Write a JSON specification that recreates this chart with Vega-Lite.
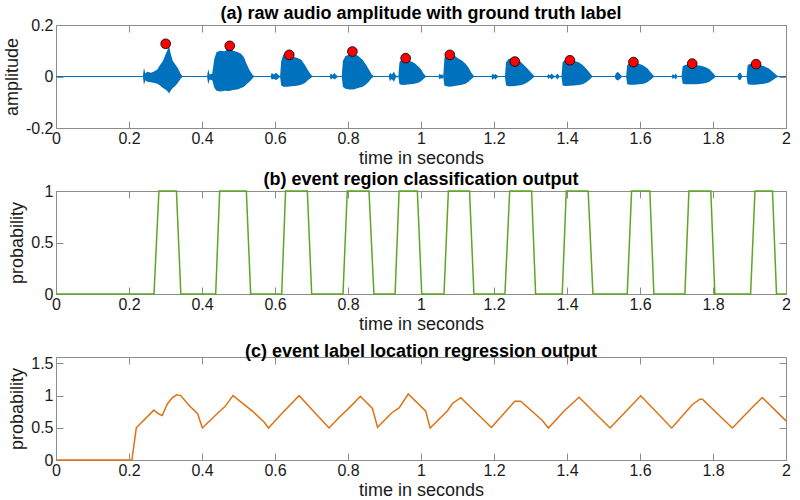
{
  "$schema": "https://vega.github.io/schema/vega-lite/v6.json",
  "background": "white",
  "padding": {"left": 3, "top": 5, "right": 5, "bottom": 3},
  "spacing": 63,
  "bounds": "flush",
  "config": {
    "font": "Liberation Sans",
    "view": {"stroke": null},
    "axis": {
      "grid": false,
      "domainColor": "#8c8c8c",
      "tickColor": "#8c8c8c",
      "tickSize": -7,
      "labelFont": "Liberation Sans",
      "labelFontSize": 16,
      "labelColor": "#1a1a1a",
      "titleFont": "Liberation Sans",
      "titleFontSize": 18,
      "titleFontWeight": "normal",
      "titleColor": "#1a1a1a",
      "labelFlush": false,
      "labelOverlap": false
    },
    "axisX": {"labelPadding": 9, "titlePadding": 3},
    "axisY": {"labelPadding": 10, "titlePadding": 4},
    "title": {"fontSize": 18, "fontWeight": "bold", "color": "#000000", "offset": -6, "anchor": "middle", "frame": "group", "font": "Liberation Sans"}
  },
  "datasets": {
    "wave": [
      {"t": 0, "hi": 0.002, "lo": -0.002},
      {"t": 0.238, "hi": 0.002, "lo": -0.002},
      {"t": 0.241, "hi": 0.034, "lo": -0.032},
      {"t": 0.245, "hi": 0.012, "lo": -0.015},
      {"t": 0.25, "hi": 0.018, "lo": -0.02},
      {"t": 0.26, "hi": 0.015, "lo": -0.022},
      {"t": 0.27, "hi": 0.02, "lo": -0.025},
      {"t": 0.278, "hi": 0.028, "lo": -0.028},
      {"t": 0.285, "hi": 0.045, "lo": -0.035},
      {"t": 0.293, "hi": 0.06, "lo": -0.045},
      {"t": 0.3, "hi": 0.085, "lo": -0.05},
      {"t": 0.306, "hi": 0.105, "lo": -0.058},
      {"t": 0.31, "hi": 0.118, "lo": -0.066},
      {"t": 0.314, "hi": 0.09, "lo": -0.055},
      {"t": 0.32, "hi": 0.06, "lo": -0.045},
      {"t": 0.328, "hi": 0.045, "lo": -0.035},
      {"t": 0.335, "hi": 0.03, "lo": -0.022},
      {"t": 0.341, "hi": 0.012, "lo": -0.01},
      {"t": 0.346, "hi": 0.002, "lo": -0.002},
      {"t": 0.414, "hi": 0.002, "lo": -0.002},
      {"t": 0.417, "hi": 0.028, "lo": -0.03},
      {"t": 0.421, "hi": 0.008, "lo": -0.012},
      {"t": 0.428, "hi": 0.012, "lo": -0.015},
      {"t": 0.434, "hi": 0.07, "lo": -0.045},
      {"t": 0.44, "hi": 0.095, "lo": -0.055},
      {"t": 0.45, "hi": 0.1, "lo": -0.058},
      {"t": 0.462, "hi": 0.098, "lo": -0.055},
      {"t": 0.474, "hi": 0.11, "lo": -0.056},
      {"t": 0.485, "hi": 0.1, "lo": -0.052},
      {"t": 0.497, "hi": 0.095, "lo": -0.05},
      {"t": 0.507, "hi": 0.088, "lo": -0.045},
      {"t": 0.515, "hi": 0.075, "lo": -0.04},
      {"t": 0.522, "hi": 0.05, "lo": -0.03},
      {"t": 0.53, "hi": 0.025, "lo": -0.02},
      {"t": 0.537, "hi": 0.01, "lo": -0.01},
      {"t": 0.542, "hi": 0.002, "lo": -0.002},
      {"t": 0.588, "hi": 0.002, "lo": -0.002},
      {"t": 0.591, "hi": 0.014, "lo": -0.012},
      {"t": 0.597, "hi": 0.008, "lo": -0.01},
      {"t": 0.603, "hi": 0.015, "lo": -0.014},
      {"t": 0.609, "hi": 0.006, "lo": -0.008},
      {"t": 0.614, "hi": 0.002, "lo": -0.002},
      {"t": 0.617, "hi": 0.06, "lo": -0.035},
      {"t": 0.623, "hi": 0.085, "lo": -0.04},
      {"t": 0.635, "hi": 0.08, "lo": -0.04},
      {"t": 0.645, "hi": 0.078, "lo": -0.038},
      {"t": 0.66, "hi": 0.073, "lo": -0.036},
      {"t": 0.672, "hi": 0.065, "lo": -0.032},
      {"t": 0.682, "hi": 0.045, "lo": -0.025},
      {"t": 0.69, "hi": 0.025, "lo": -0.015},
      {"t": 0.698, "hi": 0.008, "lo": -0.006},
      {"t": 0.703, "hi": 0.002, "lo": -0.002},
      {"t": 0.75, "hi": 0.002, "lo": -0.002},
      {"t": 0.753, "hi": 0.012, "lo": -0.012},
      {"t": 0.758, "hi": 0.006, "lo": -0.006},
      {"t": 0.763, "hi": 0.014, "lo": -0.012},
      {"t": 0.768, "hi": 0.005, "lo": -0.006},
      {"t": 0.772, "hi": 0.002, "lo": -0.002},
      {"t": 0.783, "hi": 0.002, "lo": -0.002},
      {"t": 0.786, "hi": 0.06, "lo": -0.04},
      {"t": 0.793, "hi": 0.08, "lo": -0.048},
      {"t": 0.805, "hi": 0.085, "lo": -0.05},
      {"t": 0.815, "hi": 0.09, "lo": -0.05},
      {"t": 0.828, "hi": 0.08, "lo": -0.045},
      {"t": 0.84, "hi": 0.065, "lo": -0.04},
      {"t": 0.85, "hi": 0.045, "lo": -0.03},
      {"t": 0.858, "hi": 0.025, "lo": -0.018},
      {"t": 0.865, "hi": 0.008, "lo": -0.006},
      {"t": 0.87, "hi": 0.002, "lo": -0.002},
      {"t": 0.912, "hi": 0.002, "lo": -0.002},
      {"t": 0.915, "hi": 0.015, "lo": -0.018},
      {"t": 0.92, "hi": 0.008, "lo": -0.01},
      {"t": 0.926, "hi": 0.018, "lo": -0.02},
      {"t": 0.931, "hi": 0.004, "lo": -0.004},
      {"t": 0.938, "hi": 0.002, "lo": -0.002},
      {"t": 0.941, "hi": 0.055, "lo": -0.03},
      {"t": 0.948, "hi": 0.068, "lo": -0.033},
      {"t": 0.958, "hi": 0.066, "lo": -0.032},
      {"t": 0.97, "hi": 0.06, "lo": -0.03},
      {"t": 0.982, "hi": 0.052, "lo": -0.028},
      {"t": 0.992, "hi": 0.04, "lo": -0.024},
      {"t": 1.0, "hi": 0.028, "lo": -0.018},
      {"t": 1.007, "hi": 0.012, "lo": -0.01},
      {"t": 1.013, "hi": 0.002, "lo": -0.002},
      {"t": 1.048, "hi": 0.002, "lo": -0.002},
      {"t": 1.051, "hi": 0.012, "lo": -0.012},
      {"t": 1.055, "hi": 0.005, "lo": -0.006},
      {"t": 1.058, "hi": 0.01, "lo": -0.01},
      {"t": 1.061, "hi": 0.002, "lo": -0.002},
      {"t": 1.064, "hi": 0.07, "lo": -0.035},
      {"t": 1.07, "hi": 0.09, "lo": -0.038},
      {"t": 1.078, "hi": 0.095, "lo": -0.04},
      {"t": 1.088, "hi": 0.085, "lo": -0.038},
      {"t": 1.1, "hi": 0.072, "lo": -0.035},
      {"t": 1.112, "hi": 0.062, "lo": -0.032},
      {"t": 1.122, "hi": 0.05, "lo": -0.028},
      {"t": 1.13, "hi": 0.035, "lo": -0.02},
      {"t": 1.138, "hi": 0.015, "lo": -0.01},
      {"t": 1.145, "hi": 0.002, "lo": -0.002},
      {"t": 1.193, "hi": 0.002, "lo": -0.002},
      {"t": 1.196, "hi": 0.012, "lo": -0.014},
      {"t": 1.2, "hi": 0.006, "lo": -0.006},
      {"t": 1.204, "hi": 0.01, "lo": -0.012},
      {"t": 1.209, "hi": 0.004, "lo": -0.004},
      {"t": 1.213, "hi": 0.002, "lo": -0.002},
      {"t": 1.23, "hi": 0.002, "lo": -0.002},
      {"t": 1.233, "hi": 0.055, "lo": -0.035},
      {"t": 1.24, "hi": 0.068, "lo": -0.038},
      {"t": 1.25, "hi": 0.072, "lo": -0.038},
      {"t": 1.262, "hi": 0.065, "lo": -0.036},
      {"t": 1.272, "hi": 0.058, "lo": -0.034},
      {"t": 1.282, "hi": 0.045, "lo": -0.03},
      {"t": 1.292, "hi": 0.03, "lo": -0.022},
      {"t": 1.302, "hi": 0.015, "lo": -0.012},
      {"t": 1.31, "hi": 0.002, "lo": -0.002},
      {"t": 1.346, "hi": 0.002, "lo": -0.002},
      {"t": 1.349, "hi": 0.01, "lo": -0.01},
      {"t": 1.353, "hi": 0.004, "lo": -0.004},
      {"t": 1.358, "hi": 0.012, "lo": -0.012},
      {"t": 1.363, "hi": 0.004, "lo": -0.005},
      {"t": 1.368, "hi": 0.002, "lo": -0.002},
      {"t": 1.374, "hi": 0.012, "lo": -0.012},
      {"t": 1.379, "hi": 0.002, "lo": -0.002},
      {"t": 1.385, "hi": 0.002, "lo": -0.002},
      {"t": 1.388, "hi": 0.055, "lo": -0.035},
      {"t": 1.395, "hi": 0.065, "lo": -0.037},
      {"t": 1.408, "hi": 0.062, "lo": -0.036},
      {"t": 1.42, "hi": 0.06, "lo": -0.035},
      {"t": 1.432, "hi": 0.055, "lo": -0.033},
      {"t": 1.443, "hi": 0.045, "lo": -0.03},
      {"t": 1.453, "hi": 0.03, "lo": -0.022},
      {"t": 1.462, "hi": 0.015, "lo": -0.012},
      {"t": 1.469, "hi": 0.002, "lo": -0.002},
      {"t": 1.531, "hi": 0.002, "lo": -0.002},
      {"t": 1.534, "hi": 0.012, "lo": -0.012},
      {"t": 1.539, "hi": 0.018, "lo": -0.016},
      {"t": 1.545, "hi": 0.01, "lo": -0.01},
      {"t": 1.55, "hi": 0.002, "lo": -0.002},
      {"t": 1.562, "hi": 0.002, "lo": -0.002},
      {"t": 1.565, "hi": 0.045, "lo": -0.03},
      {"t": 1.572, "hi": 0.052, "lo": -0.032},
      {"t": 1.585, "hi": 0.052, "lo": -0.032},
      {"t": 1.598, "hi": 0.05, "lo": -0.03},
      {"t": 1.61, "hi": 0.042, "lo": -0.028},
      {"t": 1.62, "hi": 0.032, "lo": -0.022},
      {"t": 1.63, "hi": 0.015, "lo": -0.012},
      {"t": 1.638, "hi": 0.002, "lo": -0.002},
      {"t": 1.687, "hi": 0.002, "lo": -0.002},
      {"t": 1.69, "hi": 0.01, "lo": -0.01},
      {"t": 1.694, "hi": 0.004, "lo": -0.004},
      {"t": 1.698, "hi": 0.012, "lo": -0.012},
      {"t": 1.702, "hi": 0.002, "lo": -0.002},
      {"t": 1.714, "hi": 0.002, "lo": -0.002},
      {"t": 1.717, "hi": 0.04, "lo": -0.028},
      {"t": 1.725, "hi": 0.046, "lo": -0.03},
      {"t": 1.74, "hi": 0.046, "lo": -0.03},
      {"t": 1.755, "hi": 0.044, "lo": -0.03},
      {"t": 1.768, "hi": 0.042, "lo": -0.028},
      {"t": 1.78, "hi": 0.036, "lo": -0.025},
      {"t": 1.79, "hi": 0.028, "lo": -0.02},
      {"t": 1.8, "hi": 0.014, "lo": -0.01},
      {"t": 1.807, "hi": 0.002, "lo": -0.002},
      {"t": 1.867, "hi": 0.002, "lo": -0.002},
      {"t": 1.87, "hi": 0.012, "lo": -0.012},
      {"t": 1.875, "hi": 0.016, "lo": -0.015},
      {"t": 1.88, "hi": 0.002, "lo": -0.002},
      {"t": 1.892, "hi": 0.002, "lo": -0.002},
      {"t": 1.895, "hi": 0.045, "lo": -0.03},
      {"t": 1.903, "hi": 0.05, "lo": -0.032},
      {"t": 1.915, "hi": 0.05, "lo": -0.032},
      {"t": 1.928, "hi": 0.045, "lo": -0.03},
      {"t": 1.94, "hi": 0.04, "lo": -0.028},
      {"t": 1.952, "hi": 0.032, "lo": -0.024},
      {"t": 1.962, "hi": 0.02, "lo": -0.016},
      {"t": 1.972, "hi": 0.008, "lo": -0.006},
      {"t": 1.978, "hi": 0.002, "lo": -0.002},
      {"t": 2.0, "hi": 0.002, "lo": -0.002}
    ],
    "labels": [
      {"t": 0.3005, "a": 0.127},
      {"t": 0.476, "a": 0.119},
      {"t": 0.639, "a": 0.084},
      {"t": 0.812, "a": 0.097},
      {"t": 0.958, "a": 0.071},
      {"t": 1.079, "a": 0.084},
      {"t": 1.257, "a": 0.058},
      {"t": 1.408, "a": 0.063},
      {"t": 1.582, "a": 0.056},
      {"t": 1.743, "a": 0.05},
      {"t": 1.918, "a": 0.048}
    ],
    "cls": [
      {"t": 0, "p": 0}, {"t": 0.2685, "p": 0}, {"t": 0.282, "p": 1}, {"t": 0.33, "p": 1}, {"t": 0.342, "p": 0},
      {"t": 0.4375, "p": 0}, {"t": 0.4484, "p": 1}, {"t": 0.5215, "p": 1}, {"t": 0.5333, "p": 0},
      {"t": 0.6183, "p": 0}, {"t": 0.629, "p": 1}, {"t": 0.6886, "p": 1}, {"t": 0.7005, "p": 0},
      {"t": 0.7863, "p": 0}, {"t": 0.798, "p": 1}, {"t": 0.8575, "p": 1}, {"t": 0.871, "p": 0},
      {"t": 0.929, "p": 0}, {"t": 0.94, "p": 1}, {"t": 0.99, "p": 1}, {"t": 1.002, "p": 0},
      {"t": 1.063, "p": 0}, {"t": 1.075, "p": 1}, {"t": 1.133, "p": 1}, {"t": 1.145, "p": 0},
      {"t": 1.23, "p": 0}, {"t": 1.243, "p": 1}, {"t": 1.303, "p": 1}, {"t": 1.314, "p": 0},
      {"t": 1.387, "p": 0}, {"t": 1.398, "p": 1}, {"t": 1.458, "p": 1}, {"t": 1.471, "p": 0},
      {"t": 1.565, "p": 0}, {"t": 1.577, "p": 1}, {"t": 1.627, "p": 1}, {"t": 1.638, "p": 0},
      {"t": 1.723, "p": 0}, {"t": 1.734, "p": 1}, {"t": 1.794, "p": 1}, {"t": 1.805, "p": 0},
      {"t": 1.903, "p": 0}, {"t": 1.915, "p": 1}, {"t": 1.963, "p": 1}, {"t": 1.974, "p": 0},
      {"t": 2.0, "p": 0}
    ],
    "reg": [
      {"t": 0, "p": 0}, {"t": 0.208, "p": 0}, {"t": 0.22, "p": 0.5}, {"t": 0.268, "p": 0.775},
      {"t": 0.282, "p": 0.714}, {"t": 0.291, "p": 0.69}, {"t": 0.305, "p": 0.87}, {"t": 0.319, "p": 0.97},
      {"t": 0.331, "p": 1.012}, {"t": 0.342, "p": 1.0}, {"t": 0.364, "p": 0.85}, {"t": 0.388, "p": 0.718},
      {"t": 0.401, "p": 0.497}, {"t": 0.447, "p": 0.75}, {"t": 0.463, "p": 0.83}, {"t": 0.485, "p": 1.0},
      {"t": 0.538, "p": 0.76}, {"t": 0.57, "p": 0.59}, {"t": 0.582, "p": 0.497}, {"t": 0.62, "p": 0.73},
      {"t": 0.666, "p": 1.0}, {"t": 0.748, "p": 0.497}, {"t": 0.775, "p": 0.656}, {"t": 0.812, "p": 0.86},
      {"t": 0.834, "p": 0.99}, {"t": 0.867, "p": 0.8}, {"t": 0.881, "p": 0.507}, {"t": 0.921, "p": 0.738},
      {"t": 0.94, "p": 0.81}, {"t": 0.965, "p": 1.025}, {"t": 1.013, "p": 0.758}, {"t": 1.025, "p": 0.497},
      {"t": 1.072, "p": 0.762}, {"t": 1.086, "p": 0.878}, {"t": 1.109, "p": 0.967}, {"t": 1.193, "p": 0.505},
      {"t": 1.257, "p": 0.912}, {"t": 1.273, "p": 0.912}, {"t": 1.332, "p": 0.618}, {"t": 1.349, "p": 0.497},
      {"t": 1.392, "p": 0.762}, {"t": 1.433, "p": 0.975}, {"t": 1.518, "p": 0.497}, {"t": 1.565, "p": 0.776},
      {"t": 1.602, "p": 0.998}, {"t": 1.687, "p": 0.497}, {"t": 1.743, "p": 0.858}, {"t": 1.764, "p": 0.945},
      {"t": 1.771, "p": 0.945}, {"t": 1.853, "p": 0.497}, {"t": 1.908, "p": 0.82}, {"t": 1.935, "p": 0.97},
      {"t": 2.0, "p": 0.608}
    ]
  },
  "vconcat": [
    {
      "width": 730,
      "height": 103,
      "title": {"text": "(a) raw audio amplitude with ground truth label"},
      "layer": [
        {
          "data": {"name": "wave"},
          "mark": {"type": "area", "color": "#0072BD"},
          "encoding": {
            "x": {"field": "t", "type": "quantitative", "scale": {"domain": [0, 2]},
                  "axis": {"values": [0, 0.2, 0.4, 0.6, 0.8, 1, 1.2, 1.4, 1.6, 1.8, 2], "format": "~g", "title": "time in seconds"}},
            "y": {"field": "hi", "type": "quantitative", "scale": {"domain": [-0.2, 0.2]},
                  "axis": {"values": [-0.2, 0, 0.2], "title": "amplitude", "labelExpr": "replace(format(datum.value,'~g'),'\u2212','-')"}},
            "y2": {"field": "lo"}
          }
        },
        {
          "data": {"name": "labels"},
          "mark": {"type": "circle", "fill": "#ff0000", "stroke": "#000000", "strokeWidth": 0.8, "size": 95, "opacity": 1},
          "encoding": {
            "x": {"field": "t", "type": "quantitative",
                  "axis": {"orient": "top", "values": [0, 0.2, 0.4, 0.6, 0.8, 1, 1.2, 1.4, 1.6, 1.8, 2], "labels": false, "title": null}},
            "y": {"field": "a", "type": "quantitative",
                  "axis": {"orient": "right", "values": [-0.2, 0, 0.2], "labels": false, "title": null}}
          }
        }
      ],
      "resolve": {"axis": {"x": "independent", "y": "independent"}}
    },
    {
      "width": 730,
      "height": 103,
      "title": {"text": "(b) event region classification output"},
      "data": {"name": "cls"},
      "layer": [
        {
          "mark": {"type": "line", "color": "#5DA624", "strokeWidth": 1.5},
          "encoding": {
            "x": {"field": "t", "type": "quantitative", "scale": {"domain": [0, 2]},
                  "axis": {"values": [0, 0.2, 0.4, 0.6, 0.8, 1, 1.2, 1.4, 1.6, 1.8, 2], "format": "~g", "title": "time in seconds"}},
            "y": {"field": "p", "type": "quantitative", "scale": {"domain": [0, 1]},
                  "axis": {"values": [0, 0.5, 1], "format": "~g", "title": "probability"}}
          }
        },
        {
          "mark": {"type": "line", "opacity": 0},
          "encoding": {
            "x": {"field": "t", "type": "quantitative",
                  "axis": {"orient": "top", "values": [0, 0.2, 0.4, 0.6, 0.8, 1, 1.2, 1.4, 1.6, 1.8, 2], "labels": false, "title": null}},
            "y": {"field": "p", "type": "quantitative",
                  "axis": {"orient": "right", "values": [0, 0.5, 1], "labels": false, "title": null}}
          }
        }
      ],
      "resolve": {"axis": {"x": "independent", "y": "independent"}}
    },
    {
      "width": 730,
      "height": 103,
      "title": {"text": "(c) event label location regression output"},
      "data": {"name": "reg"},
      "layer": [
        {
          "mark": {"type": "line", "color": "#DD7212", "strokeWidth": 1.5},
          "encoding": {
            "x": {"field": "t", "type": "quantitative", "scale": {"domain": [0, 2]},
                  "axis": {"values": [0, 0.2, 0.4, 0.6, 0.8, 1, 1.2, 1.4, 1.6, 1.8, 2], "format": "~g", "title": "time in seconds"}},
            "y": {"field": "p", "type": "quantitative", "scale": {"domain": [0, 1.5]},
                  "axis": {"values": [0, 0.5, 1, 1.5], "format": "~g", "title": "probability"}}
          }
        },
        {
          "mark": {"type": "line", "opacity": 0},
          "encoding": {
            "x": {"field": "t", "type": "quantitative",
                  "axis": {"orient": "top", "values": [0, 0.2, 0.4, 0.6, 0.8, 1, 1.2, 1.4, 1.6, 1.8, 2], "labels": false, "title": null}},
            "y": {"field": "p", "type": "quantitative",
                  "axis": {"orient": "right", "values": [0, 0.5, 1, 1.5], "labels": false, "title": null}}
          }
        }
      ],
      "resolve": {"axis": {"x": "independent", "y": "independent"}}
    }
  ]
}
